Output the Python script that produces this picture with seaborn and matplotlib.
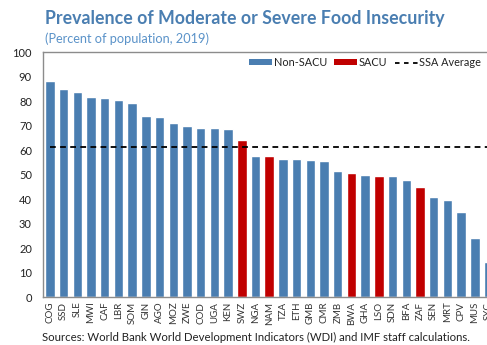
import matplotlib
matplotlib.use("Agg")
import matplotlib.pyplot as plt
from matplotlib.patches import Patch
from matplotlib.lines import Line2D
import seaborn as sns
import pandas as pd

# Prevalence of moderate or severe food insecurity, percent of population (2019)
countries = ["COG", "SSD", "SLE", "MWI", "CAF", "LBR", "SOM", "GIN", "AGO", "MOZ",
             "ZWE", "COD", "UGA", "KEN", "SWZ", "NGA", "NAM", "TZA", "ETH", "GMB",
             "CMR", "ZMB", "BWA", "GHA", "LSO", "SDN", "BFA", "ZAF", "SEN", "MRT",
             "CPV", "MUS", "SYC"]
values = [88.3, 84.8, 83.8, 81.8, 81.3, 80.6, 79.1, 74.1, 73.4, 71.0,
          69.7, 69.2, 69.2, 68.5, 64.0, 57.5, 57.5, 56.4, 56.4, 56.0,
          55.7, 51.4, 50.7, 50.0, 49.6, 49.4, 47.9, 45.0, 40.8, 39.7,
          35.0, 24.1, 14.6]
sacu_members = ["SWZ", "NAM", "BWA", "LSO", "ZAF"]
ssa_average = 61.2

group_labels = ["Non-SACU", "SACU"]
group_colors = ["#4a7eb1", "#c00000"]

df = pd.DataFrame({
    "country": countries,
    "value": values,
    "group": [group_labels[1] if c in sacu_members else group_labels[0] for c in countries],
})

sns.set_style("white")
plt.rcParams["font.family"] = ["Lato", "DejaVu Sans"]

fig = plt.figure(figsize=(4.87, 3.45), dpi=100)
ax = fig.add_axes([0.0883, 0.1377, 0.929, 0.7113])

sns.barplot(data=df, x="country", y="value", hue="group", hue_order=group_labels,
            palette=dict(zip(group_labels, group_colors)), dodge=False,
            width=0.69, saturation=1, legend=False, ax=ax)

ax.plot(range(len(countries)), [ssa_average] * len(countries), color="black",
        linestyle=(0, (3.2, 2.4)), linewidth=1.3)

ax.set_xlim(-0.5, len(countries) - 0.5)
ax.set_ylim(0, 100)
ax.set_yticks(range(0, 101, 10))
ax.set_xlabel("")
ax.set_ylabel("")
ax.tick_params(axis="y", labelsize=8, colors="#222222", length=0, pad=8)
ax.tick_params(axis="x", labelsize=7, colors="#333333", length=0, pad=3, rotation=90)
for side in ["left", "bottom", "top"]:
    ax.spines[side].set_color("#8c8c8c")
    ax.spines[side].set_linewidth(1.0)
ax.spines["right"].set_visible(False)

handles = [Patch(facecolor=group_colors[0], edgecolor="none"),
           Patch(facecolor=group_colors[1], edgecolor="none"),
           Line2D([0], [0], color="black", linestyle=(0, (2.5, 2.5)), linewidth=1.3)]
leg = ax.legend(handles, group_labels + ["SSA Average"], loc="upper right",
                bbox_to_anchor=(0.985, 1.01), ncol=3, frameon=False, fontsize=7.8,
                handlelength=2.1, handleheight=0.5, handletextpad=0.15,
                columnspacing=0.7, borderaxespad=0.3)
for t in leg.get_texts():
    t.set_color("#222222")

fig.text(0.092, 0.947, "Prevalence of Moderate or Severe Food Insecurity",
         fontsize=12.8, fontweight="bold", color="#4a7eb1", va="center", ha="left")
fig.text(0.092, 0.888, "(Percent of population, 2019)",
         fontsize=9.2, color="#5b93c9", va="center", ha="left")
fig.text(0.086, 0.021, "Sources: World Bank World Development Indicators (WDI) and IMF staff calculations.",
         fontsize=8.2, color="#222222", va="center", ha="left")

fig.savefig("out.png", dpi=100)
